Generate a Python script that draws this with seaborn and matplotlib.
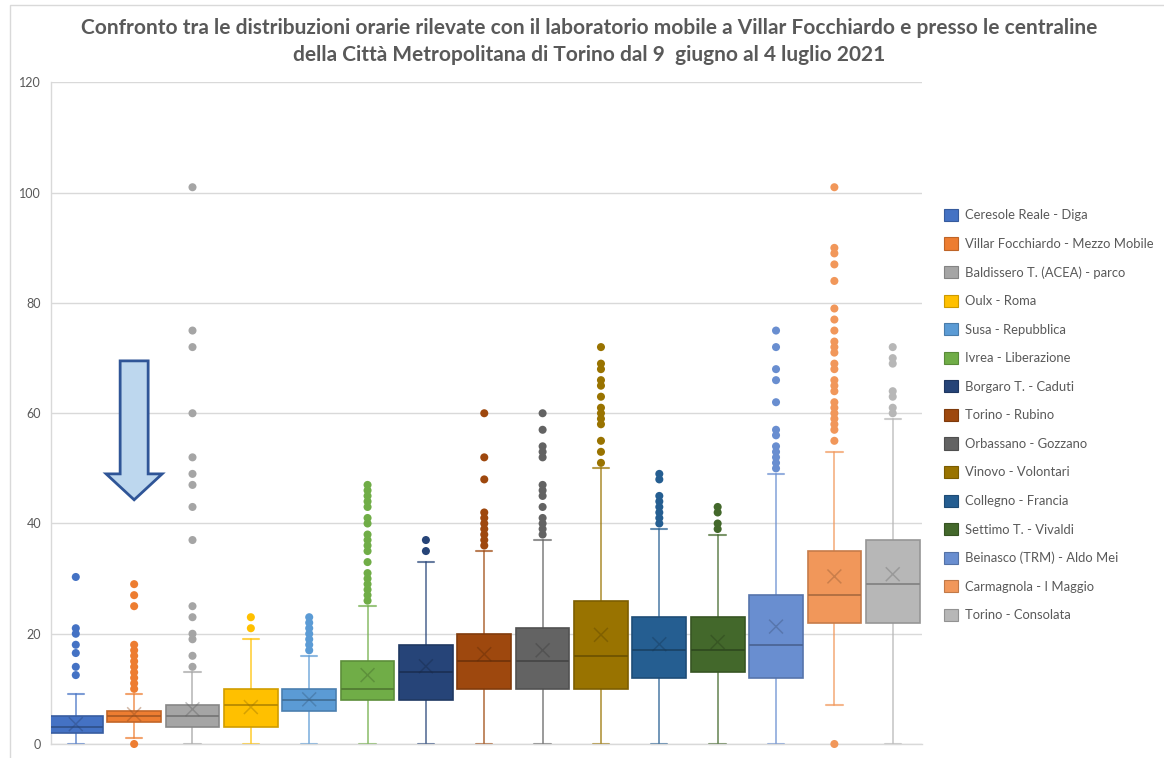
import matplotlib
matplotlib.use("Agg")
import matplotlib.pyplot as plt
import matplotlib.colors as mcolors
from matplotlib.patches import Patch, Polygon, Rectangle
import numpy as np
import pandas as pd
import seaborn as sns

# Stations (order of the boxes and of the legend)
stations = [
    "Ceresole Reale - Diga",
    "Villar Focchiardo - Mezzo Mobile",
    "Baldissero T. (ACEA) - parco",
    "Oulx - Roma",
    "Susa - Repubblica",
    "Ivrea - Liberazione",
    "Borgaro T. - Caduti",
    "Torino - Rubino",
    "Orbassano - Gozzano",
    "Vinovo - Volontari",
    "Collegno - Francia",
    "Settimo T. - Vivaldi",
    "Beinasco (TRM) - Aldo Mei",
    "Carmagnola - I Maggio",
    "Torino - Consolata",
]
colors = [
    "#4472C4", "#ED7D31", "#A5A5A5", "#FFC000", "#5B9BD5",
    "#70AD47", "#264478", "#9E480E", "#636363", "#997300",
    "#255E91", "#43682B", "#698ED0", "#F1975A", "#B7B7B7",
]

# Box statistics per station
whisker_low = [0, 1, 0, 0, 0, 0, 0, 0, 0, 0, 0, 0, 0, 7, 0]
q1 = [2, 4, 3, 3, 6, 8, 8, 10, 10, 10, 12, 13, 12, 22, 22]
median = [3, 5, 5, 7, 8, 10, 13, 15, 15, 16, 17, 17, 18, 27, 29]
q3 = [5, 6, 7, 10, 10, 15, 18, 20, 21, 26, 23, 23, 27, 35, 37]
whisker_high = [9, 9, 13, 19, 16, 25, 33, 35, 37, 50, 39, 38, 49, 53, 59]
mean = [3.6, 5.4, 6.3, 6.7, 8.1, 12.5, 14.1, 16.3, 17.0, 19.8, 18.1, 18.5, 21.3, 30.4, 30.8]

# Values outside the whiskers
out_ceresole = [12.5, 14, 16.5, 18, 20, 21, 30.3]
out_villar = [0, 10, 11, 12, 13, 14, 15, 16, 17, 18, 25, 27, 29]
out_baldissero = [14, 16, 19, 20, 23, 25, 37, 43, 47, 49, 52, 60, 72, 75, 101]
out_oulx = [21, 23]
out_susa = [17, 18, 19, 20, 21, 22, 23]
out_ivrea = [26, 27, 28, 29, 30, 31, 33, 35, 36, 37, 38, 40, 41, 43, 44, 45, 46, 47]
out_borgaro = [35, 37]
out_rubino = [36, 37, 38, 39, 40, 41, 42, 48, 52, 60]
out_orbassano = [38, 39, 40, 41, 43, 45, 46, 47, 52, 53, 54, 57, 60]
out_vinovo = [51, 53, 55, 58, 59, 60, 61, 63, 65, 66, 68, 69, 72]
out_collegno = [40, 41, 42, 43, 44, 45, 48, 49]
out_settimo = [39, 40, 42, 43]
out_beinasco = [50, 51, 52, 53, 54, 56, 57, 62, 66, 68, 72, 75]
out_carmagnola = [0, 55, 57, 58, 59, 60, 61, 62, 64, 65, 66, 68, 69, 71, 72, 73,
                  75, 77, 79, 84, 87, 89, 90, 101]
out_consolata = [60, 61, 63, 64, 69, 70, 72]
outliers = [out_ceresole, out_villar, out_baldissero, out_oulx, out_susa,
            out_ivrea, out_borgaro, out_rubino, out_orbassano, out_vinovo,
            out_collegno, out_settimo, out_beinasco, out_carmagnola, out_consolata]

y_ticks = [0, 20, 40, 60, 80, 100, 120]

title = ("Confronto tra le distribuzioni orarie rilevate con il laboratorio mobile a Villar Focchiardo e presso le centraline\n"
         "della Città Metropolitana di Torino dal 9  giugno al 4 luglio 2021")

TEXT = "#595959"
GRID = "#D9D9D9"


def shade(c, f):
    r, g, b = mcolors.to_rgb(c)
    return (r * f, g * f, b * f)


sns.set_theme(style="white")
plt.rcParams["font.family"] = ["Lato", "DejaVu Sans"]

fig = plt.figure(figsize=(11.64, 7.58), dpi=100)
ax = fig.add_axes([0.04356, 0.01847, 0.74845, 0.8727])

n = len(stations)
pos = np.arange(n)

# Outlier dots
out_df = pd.DataFrame(
    [(s, v) for s, vals in zip(stations, outliers) for v in vals],
    columns=["station", "value"],
)
sns.stripplot(data=out_df, x="station", y="value", hue="station", order=stations,
              hue_order=stations, palette=colors, jitter=False, size=5.8,
              linewidth=0, legend=False, ax=ax, clip_on=False, zorder=4)

# Boxes and whiskers from the summary statistics
stats = [dict(whislo=whisker_low[i], q1=q1[i], med=median[i], q3=q3[i],
              whishi=whisker_high[i], mean=mean[i], fliers=[], label=stations[i])
         for i in range(n)]
bp = ax.bxp(stats, positions=pos, widths=0.92, patch_artist=True, showfliers=False,
            showmeans=False, capwidths=0.28, manage_ticks=False)
for i, c in enumerate(colors):
    edge = shade(c, 0.82)
    bp["boxes"][i].set(facecolor=c, edgecolor=edge, linewidth=1.2, zorder=3)
    bp["medians"][i].set(color=shade(c, 0.72), linewidth=1.3, zorder=3.5)
    for k in (2 * i, 2 * i + 1):
        bp["whiskers"][k].set(color=c, alpha=0.7, linewidth=1.3, zorder=2)
        bp["caps"][k].set(color=c, alpha=0.7, linewidth=1.5, zorder=2, clip_on=False)

# Mean markers
mean_df = pd.DataFrame({"pos": pos, "mean": mean, "station": stations})
sns.scatterplot(data=mean_df, x="pos", y="mean", hue="station", hue_order=stations,
                palette=[shade(c, 0.6) for c in colors], marker="x", s=100,
                linewidth=1.1, alpha=0.4, legend=False, ax=ax, zorder=5)

ax.set_xlim(-0.43, n - 0.5)
ax.set_ylim(0, 120)
ax.set_yticks(y_ticks)
ax.set_xticks([])
ax.set_xlabel("")
ax.set_ylabel("")
ax.tick_params(axis="y", length=0, pad=7, labelsize=9, labelcolor=TEXT)
ax.grid(axis="y", color=GRID, linewidth=1)
ax.set_axisbelow(True)
for side in ("top", "right"):
    ax.spines[side].set_visible(False)
for side in ("left", "bottom"):
    ax.spines[side].set_color(GRID)
    ax.spines[side].set_linewidth(1)

# Arrow pointing at the mobile laboratory
arrow = Polygon([(0.76, 69.5), (1.24, 69.5), (1.24, 49.0), (1.48, 49.0),
                 (1.0, 44.3), (0.52, 49.0), (0.76, 49.0)],
                closed=True, facecolor="#BDD7EE", edgecolor="#2F5597",
                linewidth=2, zorder=6, joinstyle="miter")
ax.add_patch(arrow)

fig.text(0.506, 0.945, title, ha="center", va="center", fontsize=15,
         fontweight="bold", color=TEXT, linespacing=1.42)

handles = [Patch(facecolor=c, edgecolor=shade(c, 0.8), linewidth=0.8) for c in colors]
fig.legend(handles, stations, loc="upper left", bbox_to_anchor=(0.811, 0.7245),
           frameon=False, fontsize=9.4, labelcolor=TEXT, handlelength=1.05,
           handleheight=1.05, handletextpad=0.55, labelspacing=1.23,
           borderaxespad=0, borderpad=0)

# Chart frame
fig.patches.append(Rectangle((10 / 1164, -0.05), 1.2, 1 - 5 / 758 + 0.05,
                             transform=fig.transFigure, fill=False,
                             edgecolor=GRID, linewidth=1))

fig.savefig("out.png", dpi=100)
